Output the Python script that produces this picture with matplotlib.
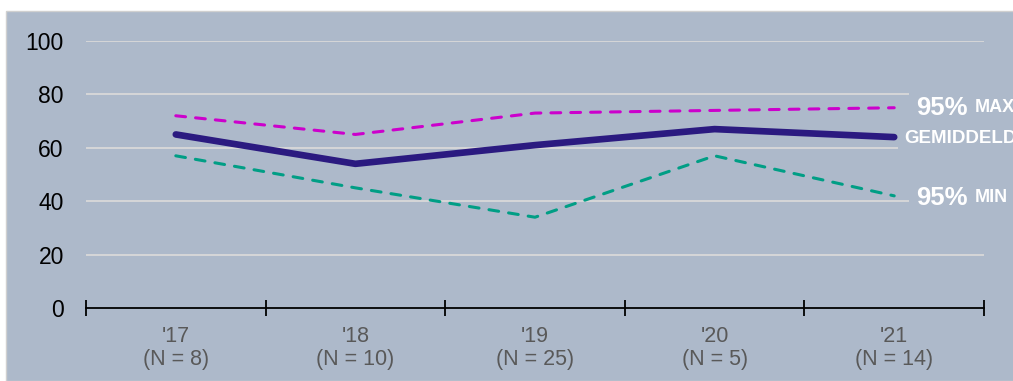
import matplotlib
matplotlib.use("Agg")
import matplotlib.pyplot as plt
from matplotlib.patches import Rectangle

plt.rcParams['font.family'] = ['Liberation Sans', 'DejaVu Sans']

years = ["'17", "'18", "'19", "'20", "'21"]
counts = [8, 10, 25, 5, 14]
mean_vals = [65, 54, 61, 67, 64]
max_vals = [72, 65, 73, 74, 75]
min_vals = [57, 45, 34, 57, 42]
yticks = [0, 20, 40, 60, 80, 100]

PANEL = '#ADB9CA'
C_MEAN = '#2B1A80'
C_MAX = '#CC00CC'
C_MIN = '#009E85'

W, H = 1013, 381
fig = plt.figure(figsize=(W / 100, H / 100), dpi=100)
fig.patch.set_facecolor('white')
panel = Rectangle((6 / W, 0), 1, 1 - 11 / H, transform=fig.transFigure,
                  facecolor=PANEL, edgecolor='#D0D0D0', linewidth=1, zorder=-10)
fig.add_artist(panel)

ax = fig.add_axes([86 / W, 1 - 308 / H, (984 - 86) / W, (308 - 41) / H])
ax.set_zorder(5)
ax.set_facecolor('none')
x = list(range(len(years)))

ax.set_xlim(-0.5, len(years) - 0.5)
ax.set_ylim(0, 100)
ax.set_yticks(yticks)
ax.set_yticklabels([str(v) for v in yticks], fontsize=16.5, color='black')
ax.tick_params(axis='y', length=0, pad=16)
for v in yticks[1:]:
    ax.axhline(v, color='#D9D9D9', linewidth=1.3, zorder=1)

ax.set_xticks([i - 0.5 for i in range(len(years) + 1)])
ax.set_xticklabels([])
ax.tick_params(axis='x', which='major', direction='inout', length=12, width=1.3, color='black')
ax.set_xticks(x, minor=True)
ax.set_xticklabels([f"{y}\n(N = {n})" for y, n in zip(years, counts)], minor=True,
                   fontsize=15.5, color='#595959', linespacing=1.1)
ax.tick_params(axis='x', which='minor', length=0, pad=13)

for s in ['top', 'right', 'left']:
    ax.spines[s].set_visible(False)
ax.spines['bottom'].set_linewidth(1.3)
ax.spines['bottom'].set_color('black')

ax.plot(x, max_vals, color=C_MAX, linewidth=2.2, dashes=(3.2, 3.3), dash_capstyle='round', zorder=3)
ax.plot(x, min_vals, color=C_MIN, linewidth=2.2, dashes=(3.2, 3.3), dash_capstyle='round', zorder=3)
ax.plot(x, mean_vals, color=C_MEAN, linewidth=4.8, solid_capstyle='round', zorder=4)

bb = dict(boxstyle='square,pad=0.3', facecolor=PANEL, edgecolor='none')
bb2 = dict(boxstyle='square,pad=0.3', facecolor=PANEL, edgecolor='none')
bb3 = dict(boxstyle='square,pad=0.6', facecolor=PANEL, edgecolor='none')

t1 = ax.annotate('95%', xy=(x[-1], max_vals[-1]), xytext=(16, 0), textcoords='offset points',
                 ha='left', va='center', fontsize=18.5, fontweight='bold', color='white',
                 bbox=bb, zorder=6, annotation_clip=False)
ax.annotate('MAX', xy=(1, 0.5), xycoords=t1, xytext=(5, 0), textcoords='offset points',
            ha='left', va='center', fontsize=13,
            fontweight='bold', color='white', bbox=bb3, zorder=5, annotation_clip=False)

ax.annotate('GEMIDDELD', xy=(x[-1], mean_vals[-1]), xytext=(7, -1), textcoords='offset points',
            ha='left', va='center', fontsize=13.5, fontweight='bold', color='white',
            bbox=bb2, zorder=5, annotation_clip=False)

t2 = ax.annotate('95%', xy=(x[-1], min_vals[-1]), xytext=(16, -1.5), textcoords='offset points',
                 ha='left', va='center', fontsize=18.5, fontweight='bold', color='white',
                 bbox=bb, zorder=6, annotation_clip=False)
ax.annotate('MIN', xy=(1, 0.5), xycoords=t2, xytext=(5, 0), textcoords='offset points',
            ha='left', va='center', fontsize=13,
            fontweight='bold', color='white', bbox=bb3, zorder=5, annotation_clip=False)

fig.savefig('out.png', dpi=100, facecolor=fig.get_facecolor())
